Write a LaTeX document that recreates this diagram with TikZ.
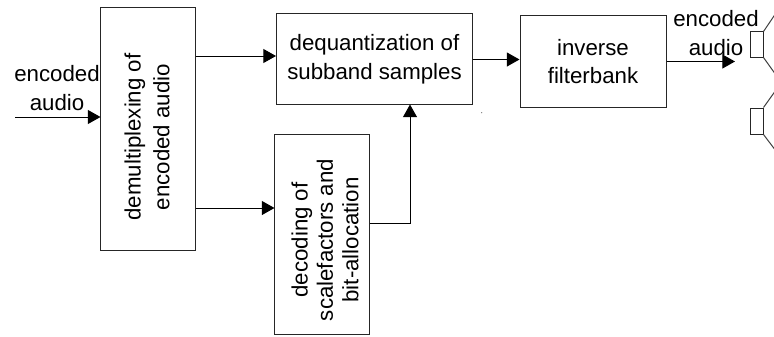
\documentclass[tikz,border=0pt]{standalone}
\usepackage{fontspec}
\setmainfont{Liberation Sans}
\usetikzlibrary{arrows.meta}

\begin{document}
\begin{tikzpicture}[x = 0.03cm, y = -0.03cm, >={Triangle[length = 0.38cm, width = 0.42cm]}, line width = 0.03cm,
		block/.style = {draw = black!85, inner sep = 0pt, align = center},
		txt/.style = {inner sep = 0pt, align = center, font = \fontsize{19}{24.5}\selectfont}]
	\useasboundingbox (0, 0) rectangle (774, 337);
	\clip (0, 0) rectangle (774, 337);
	\node [block, minimum width = 2.82cm, minimum height = 7.26cm] (demux) at (148, 129) {};
	\node [txt, rotate = 90] (demuxtext) at (147, 137) {demultiplexing of\\encoded audio};
	\node [block, txt, minimum width = 5.88cm, minimum height = 2.7cm] (dequant) at (374.5, 59) {dequantization of\\subband samples};
	\node [block, minimum width = 2.82cm, minimum height = 5.97cm] (decode) at (322, 234.5) {};
	\node [txt, rotate = 90, font = \fontsize{19}{21.7}\selectfont] (decodetext) at (325, 240) {decoding of\\scalefactors and\\bit-allocation};
	\node [block, txt, minimum width = 4.38cm, minimum height = 2.73cm] (inverse) at (593, 61.5) {inverse\\filterbank};
	\node [txt] (inlabel) at (57, 88) {encoded\\audio};
	\node [txt] (outlabel) at (716, 33) {encoded\\audio};
	\node [block, minimum width = 0.39cm, minimum height = 0.75cm] (speakerA) at (756.5, 44.5) {};
	\node [block, minimum width = 0.39cm, minimum height = 0.78cm] (speakerB) at (756.5, 121) {};
	\coordinate (instart) at (15, 117);
	\coordinate (outend) at (735, 61.5);
	\coordinate (coneAtop) at (776, 13);
	\coordinate (coneAbot) at (776, 75);
	\coordinate (coneBtop) at (776, 90);
	\coordinate (coneBbot) at (776, 151);
	% connectors
	\draw [->] (instart) -- (demux.west |- instart);
	\draw [->] (demux.east |- 0, 56) -- (dequant.west |- 0, 56);
	\draw [->] (demux.east |- 0, 208) -- (decode.west |- 0, 208);
	\draw [->] (decode.east |- 0, 223) -| (410, 223) -- (dequant.south -| 410, 0);
	\draw [->] (dequant.east |- 0, 59.5) -- (inverse.west |- 0, 59.5);
	\draw [->] (inverse.east |- outend) -- (outend);
	\draw [black!75] (speakerA.north east) -- (coneAtop);
	\draw [black!75] (speakerA.south east) -- (coneAbot);
	\draw [black!75] (speakerB.north east) -- (coneBtop);
	\draw [black!75] (speakerB.south east) -- (coneBbot);
	\fill [black!50] (481.7, 112.7) circle (0.02cm);
\end{tikzpicture}
\end{document}
